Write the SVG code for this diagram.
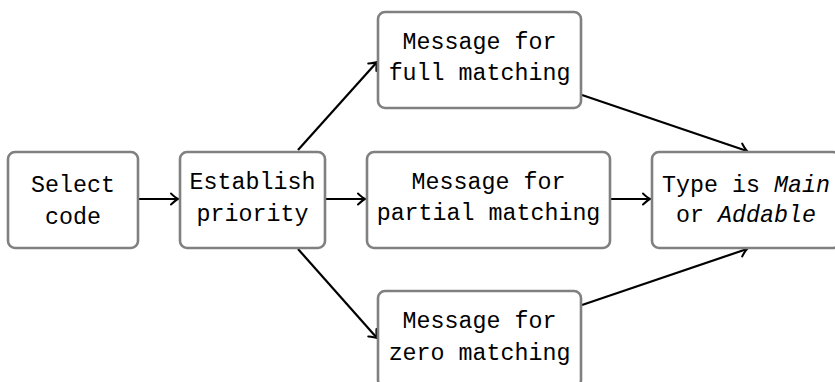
<svg xmlns="http://www.w3.org/2000/svg" width="835" height="382" viewBox="0 0 835 382">
  <style>
    .box { fill: #ffffff; stroke: #808080; stroke-width: 2.6; }
    .lbl { font-family: "Liberation Mono", "DejaVu Sans Mono", monospace; font-size: 23.3px; fill: #000000; text-anchor: middle; }
    .it { font-style: italic; }
    .edge { fill: none; stroke: #000000; stroke-width: 2.2; marker-end: url(#tip); }
  </style>
  <defs>
    <marker id="tip" markerUnits="userSpaceOnUse" markerWidth="14" markerHeight="14" refX="0" refY="0" viewBox="-8 -7 10 14" orient="auto">
      <path d="M -7,-5.5 Q -2.5,-1.2 0,0 Q -2.5,1.2 -7,5.5" fill="none" stroke="#000000" stroke-width="2" stroke-linecap="round"/>
    </marker>
  </defs>

  <rect width="835" height="382" fill="#ffffff"/>

  <g id="connectors">
    <line class="edge" x1="139" y1="199" x2="178" y2="199"/>
    <line class="edge" x1="326" y1="199" x2="365" y2="199"/>
    <line class="edge" x1="611" y1="199" x2="650" y2="199"/>
    <line class="edge" x1="298" y1="150" x2="377" y2="62"/>
    <line class="edge" x1="298" y1="249" x2="377" y2="338"/>
    <line class="edge" x1="582" y1="95" x2="747" y2="151"/>
    <line class="edge" x1="582" y1="305" x2="747" y2="249"/>
  </g>

  <g id="select-code">
    <rect class="box" x="8" y="152" width="130" height="96" rx="7"/>
    <text class="lbl" x="73" y="192">Select</text>
    <text class="lbl" x="73" y="224">code</text>
  </g>

  <g id="establish-priority">
    <rect class="box" x="180" y="152" width="145" height="96" rx="7"/>
    <text class="lbl" x="252.5" y="189">Establish</text>
    <text class="lbl" x="252.5" y="221">priority</text>
  </g>

  <g id="full-matching">
    <rect class="box" x="378" y="12" width="203" height="96" rx="7"/>
    <text class="lbl" x="479.5" y="49">Message for</text>
    <text class="lbl" x="479.5" y="80">full matching</text>
  </g>

  <g id="partial-matching">
    <rect class="box" x="367" y="152" width="243" height="96" rx="7"/>
    <text class="lbl" x="488.5" y="189">Message for</text>
    <text class="lbl" x="488.5" y="220">partial matching</text>
  </g>

  <g id="zero-matching">
    <rect class="box" x="378" y="291" width="203" height="96" rx="7"/>
    <text class="lbl" x="479.5" y="328">Message for</text>
    <text class="lbl" x="479.5" y="360">zero matching</text>
  </g>

  <g id="type-result">
    <rect class="box" x="652" y="152" width="188" height="96" rx="7"/>
    <text class="lbl" x="746" y="192">Type is <tspan class="it">Main</tspan></text>
    <text class="lbl" x="746" y="222">or <tspan class="it">Addable</tspan></text>
  </g>
</svg>
